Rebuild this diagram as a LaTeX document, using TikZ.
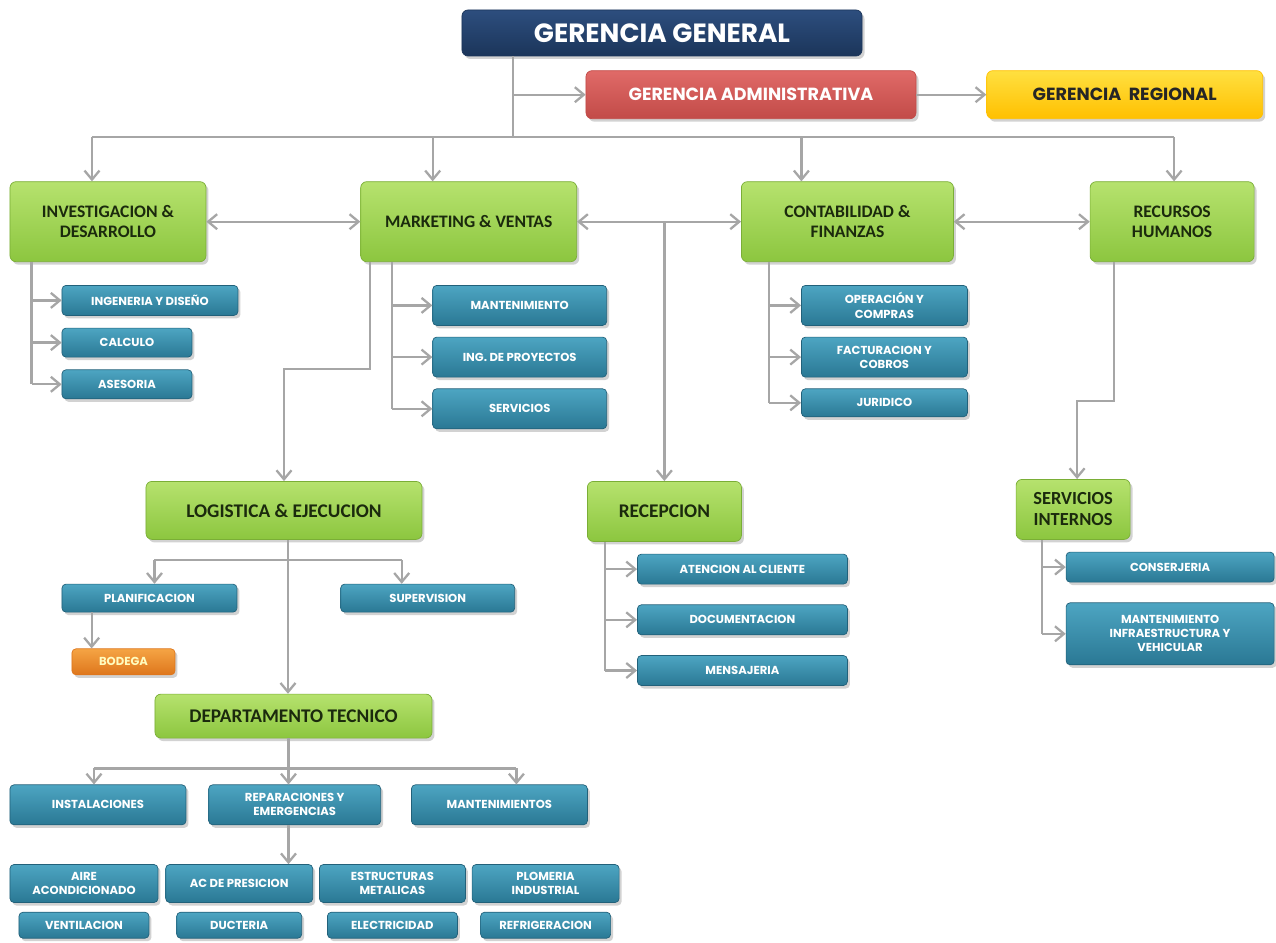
\documentclass[tikz,border=0pt]{standalone}
\usepackage{fontspec}
\setmainfont{Carlito}
\newfontfamily\geofont{Poppins}
\usepackage{xcolor}
\usetikzlibrary{positioning}
\usetikzlibrary{arrows.meta}
\usetikzlibrary{shadows}

\definecolor{linegray}{HTML}{A6A6A6}
\definecolor{navytop}{HTML}{2D4E7E}
\definecolor{navybot}{HTML}{1B355A}
\definecolor{redtop}{HTML}{E06A68}
\definecolor{redbot}{HTML}{C24B48}
\definecolor{yeltop}{HTML}{FFE040}
\definecolor{yelbot}{HTML}{FFC000}
\definecolor{greentop}{HTML}{B6E26E}
\definecolor{greenbot}{HTML}{8CC63F}
\definecolor{greenline}{HTML}{7AAE36}
\definecolor{greentext}{HTML}{1B2A0D}
\definecolor{bluetop}{HTML}{4DA5C2}
\definecolor{bluebot}{HTML}{2A7894}
\definecolor{blueline}{HTML}{22617A}
\definecolor{orangetop}{HTML}{F5A444}
\definecolor{orangebot}{HTML}{DE761C}

\begin{document}
\begin{tikzpicture}
  \tikzset{Box/.style={rectangle, rounded corners=0.12cm, inner sep=1pt, align=center, drop shadow={shadow xshift=0.05cm, shadow yshift=-0.06cm, opacity=0.35}}};
  \tikzset{Top/.style={Box, draw=navybot, top color=navytop, bottom color=navybot, text=white, font=\geofont\bfseries\fontsize{15}{18}\selectfont, minimum width=8cm, minimum height=0.92cm}};
  \tikzset{Admin/.style={Box, draw=redbot, top color=redtop, bottom color=redbot, text=white, font=\geofont\bfseries\fontsize{10}{12}\selectfont, minimum width=6.6cm, minimum height=0.96cm}};
  \tikzset{Regional/.style={Box, draw=yelbot, top color=yeltop, bottom color=yelbot, text=black!85, font=\geofont\bfseries\fontsize{10}{12}\selectfont, minimum width=5.52cm, minimum height=0.96cm}};
  \tikzset{Area/.style={Box, draw=greenline, top color=greentop, bottom color=greenbot, text=greentext, font=\bfseries\fontsize{10}{11.5}\selectfont, minimum height=1.6cm}};
  \tikzset{Unit/.style={Box, rounded corners=0.08cm, draw=blueline, top color=bluetop, bottom color=bluebot, text=white, font=\geofont\bfseries\fontsize{6.6}{8}\selectfont, minimum height=0.6cm}};
  \tikzset{Store/.style={Box, rounded corners=0.08cm, draw=orangebot, top color=orangetop, bottom color=orangebot, text=yellow!25, font=\geofont\bfseries\fontsize{6.6}{8}\selectfont, minimum width=2.06cm, minimum height=0.52cm}};
  \tikzset{Line/.style={draw=linegray, line width=1.3pt}};
  \tikzset{Arrow/.style={Line, -{Straight Barb[length=1.8mm,width=3mm]}}};
  \tikzset{Both/.style={Line, {Straight Barb[length=1.8mm,width=3mm]}-{Straight Barb[length=1.8mm,width=3mm]}}};
  \useasboundingbox[fill=white] (-13.24,0.66) rectangle (12.28,-18.2);

  % gerencias
  \node[Top] (gg) {GERENCIA GENERAL};
  \node[Admin][below=0.28cm of gg.south west, anchor=north west, xshift=2.48cm] (ga) {GERENCIA ADMINISTRATIVA};
  \node[Regional][right=1.40cm of ga] (gr) {GERENCIA\ \ REGIONAL};

  % areas
  \node[Area, minimum width=3.92cm][below=2.5cm of gg.south west, anchor=north west, xshift=-9.04cm] (id) {INVESTIGACION \&\\DESARROLLO};
  \node[Area, minimum width=4.32cm][right=3.08cm of id] (mv) {MARKETING \& VENTAS};
  \node[Area, minimum width=4.24cm][right=3.28cm of mv] (cf) {CONTABILIDAD \&\\FINANZAS};
  \node[Area, minimum width=3.28cm][right=2.72cm of cf] (rh) {RECURSOS\\HUMANOS};

  \node[Unit, minimum width=3.52cm][below=0.46cm of id.south west, anchor=north west, xshift=1.04cm] (ingenieria) {INGENERIA Y DISEÑO};
  \node[Unit, minimum width=2.6cm, minimum height=0.58cm][below=0.24cm of ingenieria.south west, anchor=north west] (calculo) {CALCULO};
  \node[Unit, minimum width=2.6cm, minimum height=0.58cm][below=0.24cm of calculo.south west, anchor=north west] (asesoria) {ASESORIA};

  \node[Unit, minimum width=3.48cm, minimum height=0.8cm][below=0.46cm of mv.south west, anchor=north west, xshift=1.44cm] (mant) {MANTENIMIENTO};
  \node[Unit, minimum width=3.48cm, minimum height=0.8cm][below=0.22cm of mant] (proyectos) {ING. DE PROYECTOS};
  \node[Unit, minimum width=3.48cm, minimum height=0.8cm][below=0.22cm of proyectos] (servicios) {SERVICIOS};

  \node[Unit, minimum width=3.32cm, minimum height=0.8cm][below=0.46cm of cf.south west, anchor=north west, xshift=1.2cm] (operacion) {OPERACIÓN Y\\COMPRAS};
  \node[Unit, minimum width=3.32cm, minimum height=0.8cm][below=0.22cm of operacion] (facturacion) {FACTURACION Y\\COBROS};
  \node[Unit, minimum width=3.32cm, minimum height=0.56cm][below=0.22cm of facturacion] (juridico) {JURIDICO};

  \node[Area, minimum width=5.52cm, minimum height=1.16cm, font=\bfseries\fontsize{11}{13}\selectfont][below=4.38cm of id.south west, anchor=north west, xshift=2.72cm] (logistica) {LOGISTICA \& EJECUCION};
  \node[Area, minimum width=3.08cm, minimum height=1.2cm, font=\bfseries\fontsize{11}{13}\selectfont][below=4.38cm of mv.south east, anchor=north west, xshift=0.2cm] (recepcion) {RECEPCION};
  \node[Area, minimum width=2.28cm, minimum height=1.2cm, font=\bfseries\fontsize{10.5}{12}\selectfont][below=4.34cm of rh.south west, anchor=north west, xshift=-1.48cm] (internos) {SERVICIOS\\INTERNOS};

  \node[Unit, minimum width=4.2cm][below=0.24cm of recepcion.south west, anchor=north west, xshift=1.0cm] (atencion) {ATENCION AL CLIENTE};
  \node[Unit, minimum width=4.2cm][below=0.40cm of atencion] (documentacion) {DOCUMENTACION};
  \node[Unit, minimum width=4.2cm][below=0.40cm of documentacion] (mensajeria) {MENSAJERIA};

  \node[Unit, minimum width=4.16cm][below=0.24cm of internos.south west, anchor=north west, xshift=1.0cm] (conserjeria) {CONSERJERIA};
  \node[Unit, minimum width=4.16cm, minimum height=1.24cm][below=0.40cm of conserjeria] (infra) {MANTENIMIENTO\\INFRAESTRUCTURA Y\\VEHICULAR};

  \node[Unit, minimum width=3.5cm, minimum height=0.56cm][below=0.88cm of logistica.south west, anchor=north west, xshift=-1.68cm] (planificacion) {PLANIFICACION};
  \node[Unit, minimum width=3.48cm, minimum height=0.56cm][right=2.06cm of planificacion] (supervision) {SUPERVISION};
  \node[Store][below=0.72cm of planificacion.south west, anchor=north west, xshift=0.2cm] (bodega) {BODEGA};
  \node[Area, minimum width=5.54cm, minimum height=0.88cm, font=\bfseries\fontsize{11}{13}\selectfont][below=3.08cm of logistica.south west, anchor=north west, xshift=0.18cm] (tecnico) {DEPARTAMENTO TECNICO};

  \node[Unit, minimum width=3.52cm, minimum height=0.8cm][below=0.92cm of tecnico.south west, anchor=north west, xshift=-2.9cm] (instalaciones) {INSTALACIONES};
  \node[Unit, minimum width=3.44cm, minimum height=0.8cm][right=0.44cm of instalaciones] (reparaciones) {REPARACIONES Y\\EMERGENCIAS};
  \node[Unit, minimum width=3.52cm, minimum height=0.8cm][right=0.6cm of reparaciones] (mantenimientos) {MANTENIMIENTOS};

  \node[Unit, minimum width=2.96cm, minimum height=0.76cm][below=0.78cm of instalaciones.south west, anchor=north west] (aire) {AIRE\\ACONDICIONADO};
  \node[Unit, minimum width=2.94cm, minimum height=0.76cm][right=0.14cm of aire] (presicion) {AC DE PRESICION};
  \node[Unit, minimum width=2.92cm, minimum height=0.76cm][right=0.12cm of presicion] (estructuras) {ESTRUCTURAS\\METALICAS};
  \node[Unit, minimum width=2.94cm, minimum height=0.76cm][right=0.12cm of estructuras] (plomeria) {PLOMERIA\\INDUSTRIAL};
  \node[Unit, minimum width=2.6cm, minimum height=0.52cm][below=0.18cm of aire] (ventilacion) {VENTILACION};
  \node[Unit, minimum width=2.5cm, minimum height=0.52cm][below=0.18cm of presicion] (ducteria) {DUCTERIA};
  \node[Unit, minimum width=2.6cm, minimum height=0.52cm][below=0.18cm of estructuras] (electricidad) {ELECTRICIDAD};
  \node[Unit, minimum width=2.6cm, minimum height=0.52cm][below=0.18cm of plomeria] (refrigeracion) {REFRIGERACION};

  % conectores gerencia
  \coordinate (trunk) at ([xshift=1.02cm]gg.south west);
  \coordinate (hub) at ([yshift=-1.62cm]trunk);
  \coordinate (idin) at ([xshift=-0.32cm]id.north);
  \coordinate (mvin) at ([xshift=-0.72cm]mv.north);
  \coordinate (cfin) at ([xshift=-0.92cm]cf.north);
  \coordinate (rhin) at ([xshift=0.04cm]rh.north);
  \draw[Line] (trunk) -- (hub);
  \draw[Arrow] (trunk |- ga.west) -- (ga.west);
  \draw[Arrow] (ga) -- (gr);
  \draw[Line] (hub -| idin) -- (hub -| rhin);
  \draw[Arrow] (hub -| idin) -- (idin);
  \draw[Arrow] (hub -| mvin) -- (mvin);
  \draw[Arrow] (hub -| cfin) -- (cfin);
  \draw[Arrow] (hub -| rhin) -- (rhin);
  \draw[Both] (id) -- (mv);
  \draw[Both] (mv) -- (cf);
  \draw[Both] (cf) -- (rh);
  \draw[Arrow] (recepcion.north |- mv.east) -- (recepcion.north);

  % investigacion
  \coordinate (idout) at ([xshift=0.44cm]id.south west);
  \draw[Line] (idout) -- (idout |- asesoria.west);
  \draw[Arrow] (idout |- ingenieria.west) -- (ingenieria.west);
  \draw[Arrow] (idout |- calculo.west) -- (calculo.west);
  \draw[Arrow] (idout |- asesoria.west) -- (asesoria.west);

  % marketing
  \coordinate (mvout) at ([xshift=0.64cm]mv.south west);
  \coordinate (mvlog) at ([xshift=0.2cm]mv.south west);
  \draw[Line] (mvout) -- (mvout |- servicios.west);
  \draw[Arrow] (mvout |- mant.west) -- (mant.west);
  \draw[Arrow] (mvout |- proyectos.west) -- (proyectos.west);
  \draw[Arrow] (mvout |- servicios.west) -- (servicios.west);
  \draw[Arrow] (mvlog) -- ++(0,-2.14cm) -| (logistica.north);

  % contabilidad
  \coordinate (cfout) at ([xshift=0.56cm]cf.south west);
  \draw[Line] (cfout) -- (cfout |- juridico.west);
  \draw[Arrow] (cfout |- operacion.west) -- (operacion.west);
  \draw[Arrow] (cfout |- facturacion.west) -- (facturacion.west);
  \draw[Arrow] (cfout |- juridico.west) -- (juridico.west);

  % recursos humanos
  \coordinate (rhout) at ([xshift=0.48cm]rh.south west);
  \draw[Arrow] (rhout) -- ++(0,-2.78cm) -| ([xshift=0.08cm]internos.north);

  % recepcion
  \coordinate (recout) at ([xshift=0.36cm]recepcion.south west);
  \draw[Line] (recout) -- (recout |- mensajeria.west);
  \draw[Arrow] (recout |- atencion.west) -- (atencion.west);
  \draw[Arrow] (recout |- documentacion.west) -- (documentacion.west);
  \draw[Arrow] (recout |- mensajeria.west) -- (mensajeria.west);

  % servicios internos
  \coordinate (siout) at ([xshift=0.52cm]internos.south west);
  \draw[Line] (siout) -- (siout |- infra.west);
  \draw[Arrow] (siout |- conserjeria.west) -- (conserjeria.west);
  \draw[Arrow] (siout |- infra.west) -- (infra.west);

  % logistica
  \coordinate (logout) at ([xshift=0.08cm]logistica.south);
  \coordinate (logsplit) at ([yshift=-0.4cm]logout);
  \coordinate (planin) at ([xshift=0.1cm]planificacion.north);
  \coordinate (supin) at ([xshift=-0.52cm]supervision.north);
  \draw[Arrow] (logout) -- (logout |- tecnico.north);
  \draw[Line] (logsplit -| planin) -- (logsplit -| supin);
  \draw[Arrow] (logsplit -| planin) -- (planin);
  \draw[Arrow] (logsplit -| supin) -- (supin);
  \coordinate (planout) at ([xshift=0.6cm]planificacion.south west);
  \draw[Arrow] (planout) -- (planout |- bodega.north);

  % departamento tecnico
  \coordinate (tecout) at ([xshift=-0.1cm]tecnico.south);
  \coordinate (tecsplit) at ([yshift=-0.6cm]tecout);
  \coordinate (instin) at ([xshift=-0.08cm]instalaciones.north);
  \coordinate (mantsin) at ([xshift=0.34cm]mantenimientos.north);
  \draw[Line] (tecout) -- (tecsplit);
  \draw[Line] (tecsplit -| instin) -- (tecsplit -| mantsin);
  \draw[Arrow] (tecsplit -| instin) -- (instin);
  \draw[Arrow] (tecsplit) -- (tecsplit |- reparaciones.north);
  \draw[Arrow] (tecsplit -| mantsin) -- (mantsin);
  \draw[Arrow] (tecout |- reparaciones.south) -- (tecout |- presicion.north);
\end{tikzpicture}
\end{document}
